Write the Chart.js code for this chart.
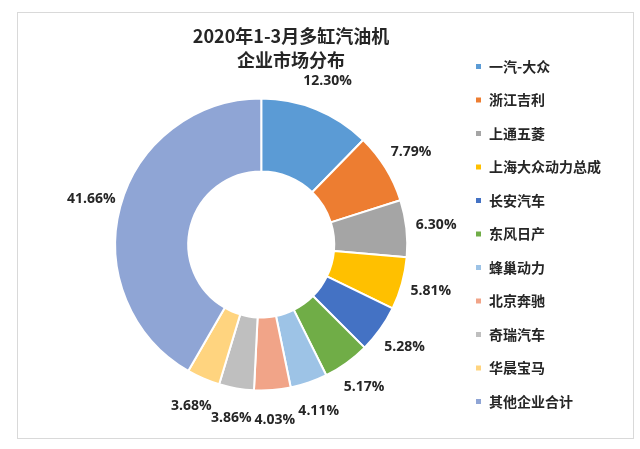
<!DOCTYPE html>
<html>
<head>
<meta charset="utf-8">
<script src="https://cdn.jsdelivr.net/npm/chart.js@4/dist/chart.umd.min.js"></script>
<style>
  html, body { margin: 0; padding: 0; background: #fff; overflow: hidden; }
  #wrap { position: relative; width: 640px; height: 449px; }
</style>
</head>
<body>
<div id="wrap"><canvas id="share-chart" width="640" height="449"></canvas></div>
<script>
// ─── Data ────────────────────────────────────────────────────────────────────
const titleLines = ['2020年1-3月多缸汽油机', '企业市场分布'];

const companies = [
  '一汽-大众', '浙江吉利', '上通五菱', '上海大众动力总成', '长安汽车',
  '东风日产', '蜂巢动力', '北京奔驰', '奇瑞汽车', '华晨宝马', '其他企业合计',
];

const shares = [12.30, 7.79, 6.30, 5.81, 5.28, 5.17, 4.11, 4.03, 3.86, 3.68, 41.66];

const palette = [
  '#5B9BD5', '#ED7D31', '#A5A5A5', '#FFC000', '#4472C4',
  '#70AD47', '#9DC3E6', '#F1A488', '#BFBFBF', '#FFD47F', '#8FA5D5',
];

const CJK = '"Noto Sans CJK SC", "Noto Sans", sans-serif';

// Frame + title drawn straight on the canvas
const framePlugin = {
  id: 'frame',
  beforeDraw(chart) {
    const { ctx } = chart;
    ctx.save();
    ctx.fillStyle = '#fff';
    ctx.fillRect(0, 0, chart.width, chart.height);
    ctx.strokeStyle = '#d9d9d9';
    ctx.lineWidth = 1;
    ctx.strokeRect(17.5, 12.5, 616, 426);
    ctx.restore();
  },
  afterDraw(chart) {
    const { ctx } = chart;
    ctx.save();
    ctx.fillStyle = '#262626';
    ctx.font = `bold 18px ${CJK}`;
    ctx.textAlign = 'center';
    ctx.textBaseline = 'middle';
    titleLines.forEach((line, i) => ctx.fillText(line, 291, 36 + i * 24));
    ctx.restore();
  },
};

// Percent labels outside each slice, along its mid angle
const outsideLabels = {
  id: 'outsideLabels',
  afterDatasetsDraw(chart) {
    const { ctx } = chart;
    const meta = chart.getDatasetMeta(0);
    ctx.save();
    ctx.fillStyle = '#262626';
    ctx.font = 'bold 14px "Open Sans", "Liberation Sans", sans-serif';
    ctx.textAlign = 'center';
    ctx.textBaseline = 'middle';
    meta.data.forEach((arc, i) => {
      const { x, y, startAngle, endAngle, outerRadius } = arc.getProps(
        ['x', 'y', 'startAngle', 'endAngle', 'outerRadius'], true);
      const mid = (startAngle + endAngle) / 2;
      const r = outerRadius + 30;
      ctx.fillText(shares[i].toFixed(2) + '%', x + Math.cos(mid) * r, y + Math.sin(mid) * r);
    });
    ctx.restore();
  },
};

new Chart(document.getElementById('share-chart'), {
  type: 'doughnut',
  data: {
    labels: companies,
    datasets: [{
      data: shares,
      backgroundColor: palette,
      borderColor: '#ffffff',
      borderWidth: 2,
      hoverOffset: 0,
      radius: 146,
    }],
  },
  options: {
    responsive: false,
    animation: false,
    cutout: '50%',
    layout: { padding: { left: 67, right: 29, top: 40, bottom: -8 } },
    plugins: {
      title: { display: false },
      tooltip: { enabled: false },
      legend: {
        position: 'right',
        align: 'start',
        labels: {
          color: '#262626',
          font: { family: CJK, size: 14, weight: 'bold' },
          boxWidth: 7,
          boxHeight: 7,
          padding: 19.5,
        },
      },
    },
  },
  plugins: [framePlugin, outsideLabels],
});
</script>
</body>
</html>
